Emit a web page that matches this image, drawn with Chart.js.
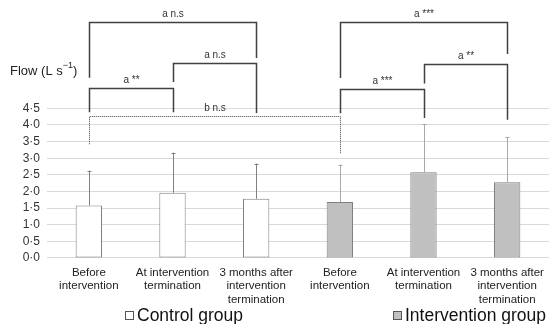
<!DOCTYPE html>
<html>
<head>
<meta charset="utf-8">
<script src="https://cdn.jsdelivr.net/npm/chart.js@4.4.1/dist/chart.umd.min.js"></script>
<style>
  html, body { margin: 0; padding: 0; background: #fff; }
  #wrap { width: 549px; height: 324px; position: relative; }
</style>
</head>
<body>
<div id="wrap"><canvas id="chart"></canvas></div>
<script>
/******************** data ********************/
const categories = [
  ["Before", "intervention"],
  ["At intervention", "termination"],
  ["3 months after", "intervention", "termination"],
  ["Before", "intervention"],
  ["At intervention", "termination"],
  ["3 months after", "intervention", "termination"]
];
const controlFlow = [1.58, 1.96, 1.78, null, null, null];
const interventionFlow = [null, null, null, 1.68, 2.58, 2.28];
// upper end of the error bars (mean + SD)
const controlUpper = [2.63, 3.17, 2.84, null, null, null];
const interventionUpper = [null, null, null, 2.81, 4.03, 3.63];
const yTicksShown = [0, 0.5, 1, 1.5, 2, 2.5, 3, 3.5, 4, 4.5];
const groupNames = ["Control group", "Intervention group"];
// significance brackets: category from/to, height of bar, ends of the legs, label
const brackets = [
  { from: 0, to: 1, top: 5.12, leftEnd: 4.38, rightEnd: 4.38, label: "a **" },
  { from: 1, to: 2, top: 5.85, leftEnd: 5.29, rightEnd: 4.36, label: "a n.s" },
  { from: 0, to: 2, top: 7.09, leftEnd: 5.42, rightEnd: 6.01, label: "a n.s" },
  { from: 0, to: 3, top: 4.28, leftEnd: 3.42, rightEnd: 3.13, label: "b n.s", dotted: true },
  { from: 3, to: 4, top: 5.09, leftEnd: 4.35, rightEnd: 4.21, label: "a ***" },
  { from: 4, to: 5, top: 5.83, leftEnd: 5.25, rightEnd: 4.16, label: "a **" },
  { from: 3, to: 5, top: 7.09, leftEnd: 5.41, rightEnd: 6.13, label: "a ***" }
];

const FONT = "'Liberation Sans', Arial, sans-serif";

/******************** error bars ********************/
const errorBars = {
  id: "errorBars",
  afterDatasetsDraw(chart) {
    const ctx = chart.ctx;
    const y = chart.scales.y;
    const uppers = [controlUpper, interventionUpper];
    const colors = ["#808080", "#a8a8a8"];
    chart.data.datasets.forEach((ds, di) => {
      const meta = chart.getDatasetMeta(di);
      meta.data.forEach((bar, i) => {
        if (uppers[di][i] == null) return;
        const top = y.getPixelForValue(uppers[di][i]);
        ctx.save();
        ctx.strokeStyle = colors[di];
        ctx.lineWidth = 1;
        ctx.beginPath();
        ctx.moveTo(Math.round(bar.x) + 0.5, bar.y);
        ctx.lineTo(Math.round(bar.x) + 0.5, top);
        ctx.moveTo(Math.round(bar.x) - 1.5, Math.round(top) + 0.5);
        ctx.lineTo(Math.round(bar.x) + 2.5, Math.round(top) + 0.5);
        ctx.stroke();
        ctx.restore();
      });
    });
  }
};

/******************** brackets, y title, legend ********************/
const annotations = {
  id: "annotations",
  afterDraw(chart) {
    const ctx = chart.ctx;
    const x = chart.scales.x;
    const y = chart.scales.y;
    ctx.save();
    brackets.forEach((b) => {
      const x1 = Math.round(x.getPixelForValue(b.from)) + 0.5;
      const x2 = Math.round(x.getPixelForValue(b.to)) + 0.5;
      const yt = Math.round(y.getPixelForValue(b.top)) + 0.5;
      ctx.strokeStyle = b.dotted ? "#444" : "#404040";
      ctx.lineWidth = b.dotted ? 1 : 1.5;
      ctx.setLineDash(b.dotted ? [1, 1] : []);
      ctx.beginPath();
      ctx.moveTo(x1, y.getPixelForValue(b.leftEnd));
      ctx.lineTo(x1, yt);
      ctx.lineTo(x2, yt);
      ctx.lineTo(x2, y.getPixelForValue(b.rightEnd));
      ctx.stroke();
      ctx.fillStyle = "#333";
      ctx.font = "10px " + FONT;
      ctx.textAlign = "center";
      ctx.textBaseline = "bottom";
      ctx.fillText(b.label, (x1 + x2) / 2, yt - 3);
    });
    ctx.setLineDash([]);

    // y axis title
    ctx.fillStyle = "#222";
    ctx.textAlign = "left";
    ctx.textBaseline = "middle";
    ctx.font = "13px " + FONT;
    let tx = 10;
    ctx.fillText("Flow (L s", tx, 71);
    tx += ctx.measureText("Flow (L s").width;
    ctx.font = "9px " + FONT;
    ctx.fillText("\u22121", tx, 66);
    tx += ctx.measureText("\u22121").width;
    ctx.font = "13px " + FONT;
    ctx.fillText(")", tx, 71);

    // legend
    const legendX = [125, 393];
    chart.data.datasets.forEach((ds, i) => {
      ctx.fillStyle = ds.backgroundColor;
      ctx.strokeStyle = "#555";
      ctx.lineWidth = 1;
      ctx.fillRect(legendX[i] + 0.5, 311.5, 8, 8);
      ctx.strokeRect(legendX[i] + 0.5, 311.5, 8, 8);
      ctx.fillStyle = "#111";
      ctx.font = "17.5px " + FONT;
      ctx.textBaseline = "middle";
      ctx.fillText(groupNames[i], legendX[i] + 12, 316);
    });
    ctx.restore();
  }
};

const ctx = document.getElementById("chart").getContext("2d");
const myChart = new Chart(ctx, {
  type: "bar",
  data: {
    labels: categories,
    datasets: [
      {
        label: groupNames[0],
        data: controlFlow,
        backgroundColor: "#ffffff",
        borderColor: "#7f7f7f",
        borderWidth: 1,
        borderSkipped: false,
        grouped: false
      },
      {
        label: groupNames[1],
        data: interventionFlow,
        backgroundColor: "#c0c0c0",
        borderColor: "#7f7f7f",
        borderWidth: 1,
        borderSkipped: false,
        grouped: false
      }
    ]
  },
  options: {
    responsive: true,
    maintainAspectRatio: false,
    animation: false,
    layout: {
      padding: { top: 0, left: 0, right: -3, bottom: 18 }
    },
    plugins: {
      legend: { display: false },
      tooltip: { enabled: false }
    },
    datasets: {
      bar: { categoryPercentage: 1, barPercentage: 0.315 }
    },
    scales: {
      x: {
        grid: { display: false },
        border: { display: false },
        ticks: {
          color: "#222",
          font: { family: FONT, size: 11.5, lineHeight: 1.16 },
          padding: 0,
          maxRotation: 0,
          autoSkip: false
        }
      },
      y: {
        min: 0,
        max: 7.33,
        afterFit(scale) { scale.width = 47; },
        afterBuildTicks(scale) {
          scale.ticks = yTicksShown.map((v) => ({ value: v }));
        },
        border: { display: false },
        grid: { color: "#d9d9d9", drawTicks: false },
        ticks: {
          color: "#333",
          padding: 7,
          font: { family: FONT, size: 12 },
          callback: (v) => v.toFixed(1).replace(".", "\u00b7")
        }
      }
    }
  },
  plugins: [errorBars, annotations]
});
</script>
</body>
</html>
